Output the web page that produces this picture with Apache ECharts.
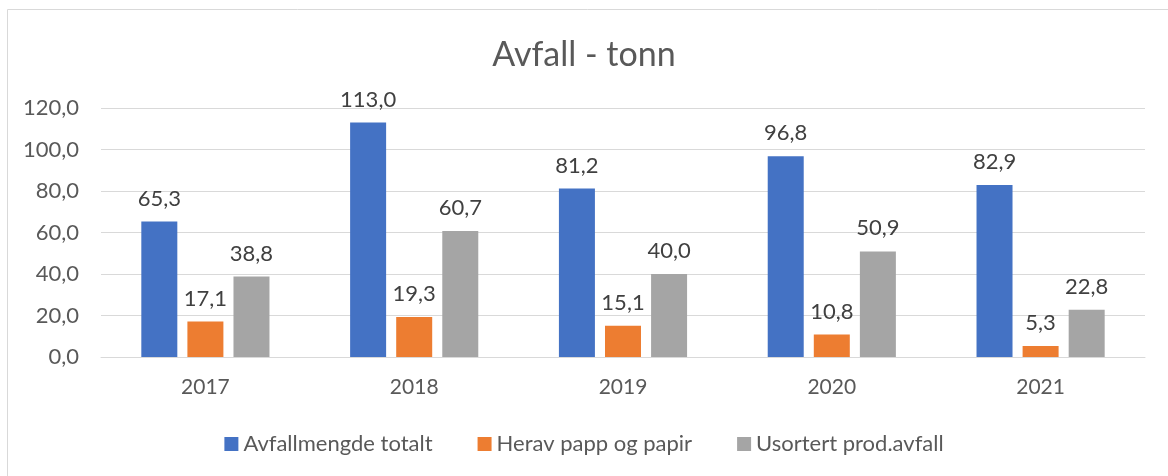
<!DOCTYPE html>
<html>
<head>
<meta charset="utf-8">
<script src="https://cdn.jsdelivr.net/npm/echarts@6/dist/echarts.min.js"></script>
<style>
  html, body { margin: 0; padding: 0; background: #fff; }
  #chart { width: 1168px; height: 476px; }
</style>
</head>
<body>
<div id="chart"></div>
<script>
const years = ['2017', '2018', '2019', '2020', '2021']
const totalt = [65.3, 113.0, 81.2, 96.8, 82.9]
const papp = [17.1, 19.3, 15.1, 10.8, 5.3]
const usortert = [38.8, 60.7, 40.0, 50.9, 22.8]
const seriesNames = ['Avfallmengde totalt', 'Herav papp og papir', 'Usortert prod.avfall']

const font = 'Lato, "Open Sans", sans-serif'
const textColor = '#595959'

const chart = echarts.init(document.getElementById('chart'))

// tall med komma som desimaltegn
const fmt = v => v.toFixed(1).replace('.', ',')

function bar(name, data, color) {
  return {
    name: name,
    type: 'bar',
    data: data,
    barWidth: 36,
    barGap: '28%',
    itemStyle: { color: color },
    label: {
      show: true,
      position: 'top',
      distance: 12,
      color: '#404040',
      fontFamily: font,
      fontSize: 22,
      formatter: p => fmt(p.value)
    }
  }
}

chart.setOption({
  animation: false,
  color: ['#4472C4', '#ED7D31', '#A5A5A5'],
  title: {
    text: 'Avfall - tonn',
    left: 'center',
    top: 33,
    textStyle: { color: textColor, fontFamily: font, fontSize: 34, fontWeight: 'normal' }
  },
  graphic: [
    { type: 'line', shape: { x1: 7.5, y1: 9.5, x2: 1168, y2: 9.5 }, style: { stroke: '#d9d9d9', lineWidth: 1 } },
    { type: 'line', shape: { x1: 7.5, y1: 9.5, x2: 7.5, y2: 476 }, style: { stroke: '#d9d9d9', lineWidth: 1 } }
  ],
  legend: {
    bottom: 16,
    left: 'center',
    itemWidth: 14,
    itemHeight: 14,
    itemGap: 45,
    icon: 'rect',
    textStyle: { color: textColor, fontFamily: font, fontSize: 22 },
    data: seriesNames
  },
  grid: { left: 101, right: 23, top: 108, bottom: 119 },
  xAxis: {
    type: 'category',
    data: years,
    axisTick: { show: false },
    axisLine: { lineStyle: { color: '#d9d9d9', width: 1 } },
    axisLabel: { color: textColor, fontFamily: font, fontSize: 21, margin: 20 }
  },
  yAxis: {
    type: 'value',
    min: 0,
    max: 120,
    interval: 20,
    axisLabel: { color: textColor, fontFamily: font, fontSize: 22, margin: 22, formatter: v => fmt(v) },
    splitLine: { lineStyle: { color: '#d9d9d9', width: 1 } }
  },
  series: [
    bar(seriesNames[0], totalt, '#4472C4'),
    bar(seriesNames[1], papp, '#ED7D31'),
    bar(seriesNames[2], usortert, '#A5A5A5')
  ]
})
</script>
</body>
</html>
